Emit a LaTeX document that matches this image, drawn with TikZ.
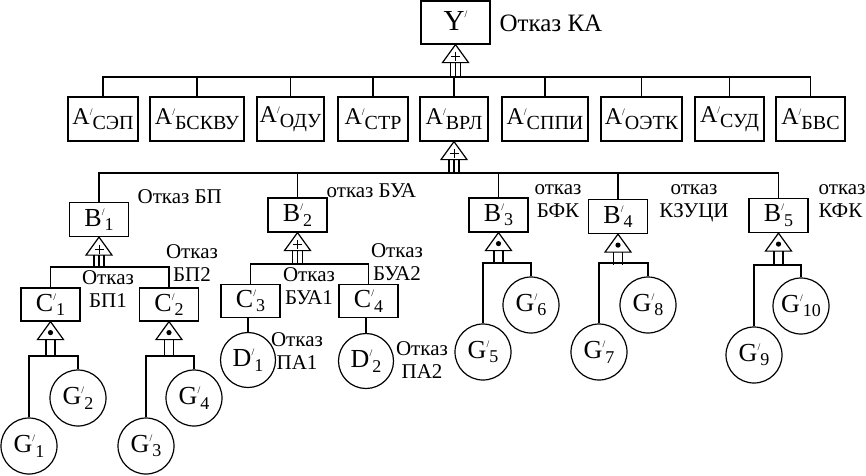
\documentclass[tikz,border=0pt]{standalone}
\usepackage{fontspec}
\setmainfont{Liberation Serif}
\usetikzlibrary{calc}
\newcommand\nm[5]{{\fontsize{#3}{#3}\selectfont #1}\raisebox{#5}{\fontsize{10}{10}\selectfont /}\raisebox{-4.5pt}{\fontsize{#4}{#4}\selectfont #2}}
\begin{document}
\begin{tikzpicture}[x=1pt,y=-1pt,line width=1.2pt,
  box/.style={draw,inner sep=0pt,minimum height=34pt,minimum width=59pt},
  abox/.style={draw,inner sep=0pt,minimum height=44pt},
  ev/.style={draw,circle,inner sep=0pt,minimum size=56pt},
  lbl/.style={align=center,inner sep=0pt,font=\fontsize{21}{23}\selectfont},
  pics/orgate/.style={code={
    \draw[fill=white] (0,0) -- (-13,18) -- (13,18) -- cycle;
    \draw[line width=1pt] (-4.5,12) -- (4.5,12) (0,7.5) -- (0,16.5);
    \foreach \dx in {-5,0,5} \draw (\dx,18) -- (\dx,{18+#1});
  }},
  pics/andgate/.style={code={
    \draw[fill=white] (0,0) -- (-13,18) -- (13,18) -- cycle;
    \fill (0,11) circle (2.6pt);
    \foreach \dx in {-4.5,4.5} \draw (\dx,18) -- (\dx,{18+#1});
  }},
]
\useasboundingbox (0,0) rectangle (866,475);

% top event
\node[abox,minimum width=69pt,minimum height=43pt] (Y) at (455.5,22.5) {\nm{Y}{}{29}{16}{13pt}};
\node[inner sep=0pt,anchor=west,font=\fontsize{25}{25}\selectfont] (lY) at (499,23) {Отказ КА};

% level A
\node[abox,minimum width=70pt] (A1) at (103,119) {\nm{A}{СЭП}{24}{20}{9.5pt}};
\node[abox,minimum width=94pt] (A2) at (197,119) {\nm{A}{БСКВУ}{24}{20}{9.5pt}};
\node[abox,minimum width=67pt] (A3) at (290.5,119) {\nm{A}{ОДУ}{24}{20}{9.5pt}};
\node[abox,minimum width=70pt] (A4) at (373,119) {\nm{A}{СТР}{24}{20}{9.5pt}};
\node[abox,minimum width=68pt] (A5) at (454,119) {\nm{A}{ВРЛ}{24}{20}{9.5pt}};
\node[abox,minimum width=86pt] (A6) at (545,119) {\nm{A}{СППИ}{24}{20}{9.5pt}};
\node[abox,minimum width=81pt] (A7) at (641.5,119) {\nm{A}{ОЭТК}{24}{20}{9.5pt}};
\node[abox,minimum width=69pt] (A8) at (729.5,119) {\nm{A}{СУД}{24}{20}{9.5pt}};
\node[abox,minimum width=69pt] (A9) at (810.5,119) {\nm{A}{БВС}{24}{20}{9.5pt}};

\pic (gY) at (Y.south) {orgate=15};
\coordinate (barA) at (0,77);
\draw (A1.north) -- (A1.north |- barA) -- (A9.north |- barA) -- (A9.north);
\foreach \n in {A2,A3,A4,A5,A6,A7,A8} \draw (\n.north) -- (\n.north |- barA);

% level B
\node[box] (B1) at (99,219.5) {\nm{B}{1}{26}{18}{11pt}};
\node[box] (B2) at (297.5,215) {\nm{B}{2}{26}{18}{11pt}};
\node[box] (B3) at (498.5,215) {\nm{B}{3}{26}{18}{11pt}};
\node[box] (B4) at (618,216.5) {\nm{B}{4}{26}{18}{11pt}};
\node[box] (B5) at (778.5,215.5) {\nm{B}{5}{26}{18}{11pt}};

\pic (gA) at (A5.south) {orgate=14};
\coordinate (barB) at (0,173);
\draw (B1.north) -- (B1.north |- barB) -- (B5.north |- barB) -- (B5.north);
\foreach \n in {B2,B3,B4} \draw (\n.north) -- (\n.north |- barB);

\node[lbl,anchor=west] (l1) at (137,197) {Отказ БП};
\node[lbl,anchor=west] (l2) at (326,191) {отказ БУА};
\node[lbl] (l3) at (558,201) {отказ\\БФК};
\node[lbl] (l4) at (694,203) {отказ\\КЗУЦИ};
\node[lbl,align=left,anchor=west] (l5) at (818,201) {отказ\\КФК};

% level C
\node[box,minimum height=33pt] (C1) at (50.5,304.5) {\nm{C}{1}{26}{18}{11pt}};
\node[box,minimum height=33pt] (C2) at (169,304.5) {\nm{C}{2}{26}{18}{11pt}};
\node[box,minimum height=33pt] (C3) at (250.5,301) {\nm{C}{3}{26}{18}{11pt}};
\node[box,minimum height=33pt] (C4) at (368.5,301) {\nm{C}{4}{26}{18}{11pt}};

\pic (gB1) at (B1.south) {orgate=12.5};
\pic (gB2) at (B2.south) {orgate=14};
\coordinate (barC1) at (0,267);
\coordinate (barC2) at (0,264);
\draw (C1.north) -- (C1.north |- barC1) -- (C2.north |- barC1) -- (C2.north);
\draw (C3.north) -- (C3.north |- barC2) -- (C4.north |- barC2) -- (C4.north);

\node[lbl] (l6) at (108,289) {Отказ\\БП1};
\node[lbl] (l7) at (192,263) {Отказ\\БП2};
\node[lbl] (l8) at (309,286) {Отказ\\БУА1};
\node[lbl] (l9) at (397,262) {Отказ\\БУА2};

% D events
\node[ev,minimum size=55pt] (D1) at (248,360) {\nm{D}{1}{26}{18}{11pt}};
\node[ev,minimum size=55pt] (D2) at (366,361) {\nm{D}{2}{26}{18}{11pt}};
\draw (D1.north) -- (D1.north |- C3.south);
\draw (D2.north) -- (D2.north |- C4.south);
\node[lbl] (l10) at (297,351) {Отказ\\ПА1};
\node[lbl] (l11) at (422,360) {Отказ\\ПА2};

% G events
\node[ev] (G1) at (29,446) {\nm{G}{1}{26}{18}{11pt}};
\node[ev] (G2) at (78,398) {\nm{G}{2}{26}{18}{11pt}};
\node[ev] (G3) at (146,446) {\nm{G}{3}{26}{18}{11pt}};
\node[ev] (G4) at (194,398) {\nm{G}{4}{26}{18}{11pt}};
\node[ev] (G5) at (483,352) {\nm{G}{5}{26}{18}{11pt}};
\node[ev] (G6) at (531,305) {\nm{G}{6}{26}{18}{11pt}};
\node[ev] (G7) at (599,352) {\nm{G}{7}{26}{18}{11pt}};
\node[ev] (G8) at (648,305) {\nm{G}{8}{26}{18}{11pt}};
\node[ev] (G9) at (754,355) {\nm{G}{9}{26}{18}{11pt}};
\node[ev] (G10) at (801,306) {\nm{G}{10}{26}{18}{11pt}};

\pic (gC1) at (C1.south) {andgate=17};
\pic (gC2) at (C2.south) {andgate=17};
\pic (gB3) at (B3.south) {andgate=13};
\pic (gB4) at (B4.south) {andgate=13};
\pic (gB5) at (B5.south) {andgate=14};

\coordinate (barG1) at (0,356);
\coordinate (barG3) at (0,263);
\coordinate (barG5) at (0,265);
\draw (G1.north) -- (G1.north |- barG1) -- (G2.north |- barG1) -- (G2.north);
\draw (G3.north) -- (G3.north |- barG1) -- (G4.north |- barG1) -- (G4.north);
\draw (G5.north) -- (G5.north |- barG3) -- (G6.north |- barG3) -- (G6.north);
\draw (G7.north) -- (G7.north |- barG3) -- (G8.north |- barG3) -- (G8.north);
\draw (G9.north) -- (G9.north |- barG5) -- (G10.north |- barG5) -- (G10.north);
\end{tikzpicture}
\end{document}
